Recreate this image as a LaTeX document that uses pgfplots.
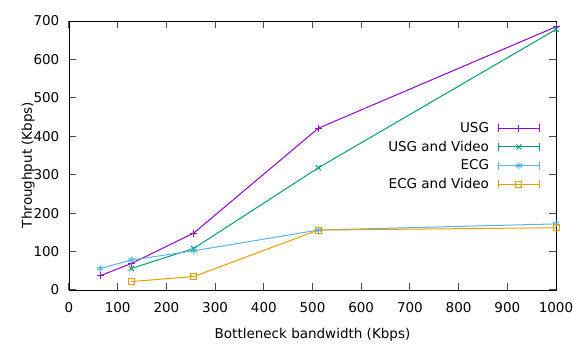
\documentclass[border=0pt]{standalone}
\usepackage{pgfplots}
\pgfplotsset{compat=1.18}
\usepackage{fontspec}
\setmainfont{DejaVu Sans}
\definecolor{cUSG}{HTML}{9400D3}
\definecolor{cUSGV}{HTML}{009E73}
\definecolor{cECG}{HTML}{56B4E9}
\definecolor{cECGV}{HTML}{E69F00}
\begin{document}
\fontsize{13.5}{16}\selectfont
\begin{tikzpicture}[x=1pt,y=1pt]
\useasboundingbox (-69,-55) rectangle (505,290);
\begin{axis}[
  at={(0,0)}, anchor=south west,
  scale only axis, width=487pt, height=269pt,
  xmin=0, xmax=1000, ymin=0, ymax=700,
  xtick={0,100,...,1000}, ytick={0,100,...,700},
  /pgf/number format/assume math mode=true,
  /pgf/number format/set thousands separator={},
  ticklabel style={font=\fontsize{13.5}{16}\selectfont},
  label style={font=\fontsize{13.5}{16}\selectfont},
  major tick length=7pt,
  tick style={black!70, line width=1pt},
  axis line style={black, line width=0.8pt},
  xlabel={Bottleneck bandwidth (Kbps)},
  ylabel={Throughput (Kbps)},
  xlabel style={at={(rel axis cs:0.5,0)}, anchor=base, yshift=-49pt},
  ylabel style={at={(axis description cs:-0.076,0.465)}, anchor=base},
  yticklabel style={anchor=east, xshift=-5pt},
  xticklabel style={anchor=north, yshift=-8pt},
  legend plot pos=right,
  legend cell align=right,
  legend style={draw=none, fill=none, at={(rel axis cs:0.9675,0.628)}, anchor=north east,
    font=\fontsize{13.5}{16}\selectfont, row sep=4.5pt, inner sep=0pt,
    nodes={inner sep=1pt},
    /tikz/every odd column/.append style={column sep=8pt}},
  legend image code/.code={
    \draw[mark repeat=2,mark phase=2,#1] plot coordinates {(0pt,0pt) (20.5pt,0pt) (41pt,0pt)};
    \draw[#1,mark=none] (0pt,-4pt)--(0pt,4pt) (41pt,-4pt)--(41pt,4pt);
  },
  every axis plot/.append style={line width=1pt},
]
\addplot[cUSG, mark=+, mark size=3.5pt] coordinates {
 (64,37) (128,69) (256,148) (512,421) (1000,685)};
\addlegendentry{USG}
\addplot[cUSGV, mark=x, mark size=3.5pt] coordinates {
 (128,56) (256,108) (512,318) (1000,678)};
\addlegendentry{USG and Video}
\addplot[cECG, mark=asterisk, mark size=3.5pt] coordinates {
 (64,56) (128,78) (256,102) (512,156) (1000,172)};
\addlegendentry{ECG}
\addplot[cECGV, mark=square, mark size=3pt] coordinates {
 (128,22) (256,35) (512,156) (1000,162)};
\addlegendentry{ECG and Video}
\end{axis}
\end{tikzpicture}
\end{document}
